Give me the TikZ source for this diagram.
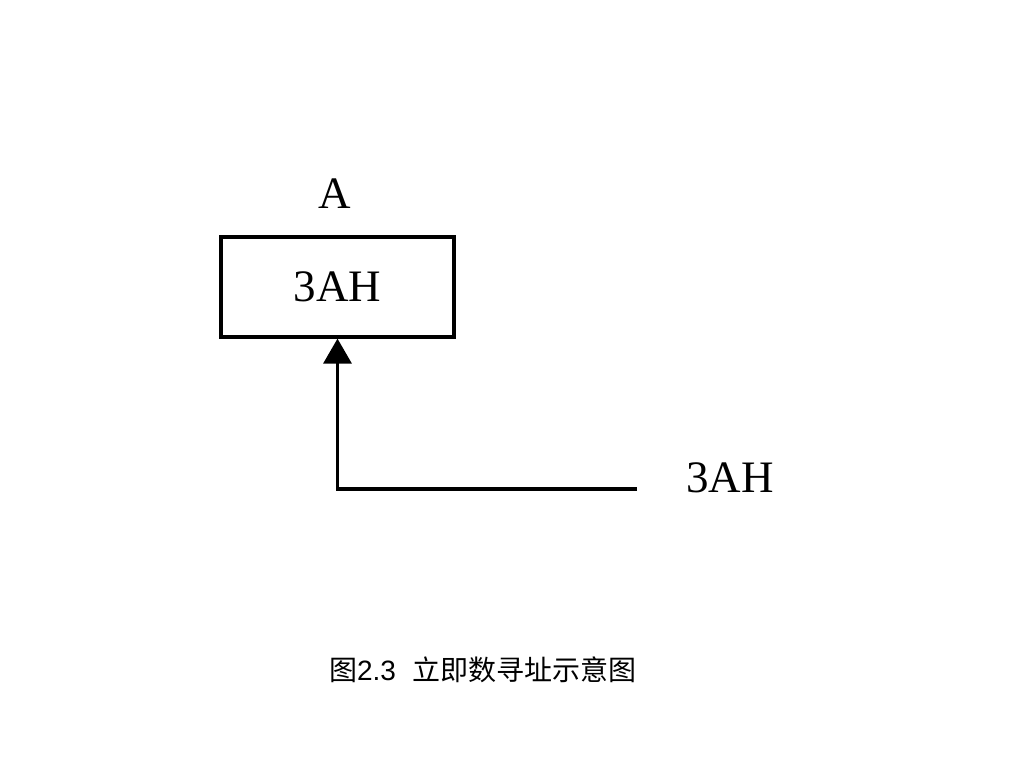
\documentclass[tikz,border=0pt]{standalone}
\usepackage{fontspec}
\setmainfont{Liberation Serif}
\newfontfamily\cjk{Noto Sans CJK SC}
\newfontfamily\helv{Liberation Sans}
\usetikzlibrary{arrows.meta}
\tikzset{
	membox/.style={draw, line width=3.2pt, minimum width=233pt, minimum height=100pt, inner sep=0pt},
	lbl/.style={font=\fontsize{45}{54}\selectfont, inner sep=0pt},
	arr/.style={line width=3.2pt, -{Triangle[length=25pt, width=28pt]}},
	caption/.style={font=\cjk\fontsize{28}{34}\selectfont, inner sep=0pt}
}
\begin{document}
\begin{tikzpicture}[x=1pt, y=-1pt]
		\useasboundingbox (0,0) rectangle (1024,768);
		
		\node[membox, lbl] (mem) at (337.5,287) {3AH};
		\node[lbl, anchor=base] (addr) at (335,208) {A};
		\node[lbl, anchor=base] (imm) at (730,492) {3AH};
		\coordinate (src) at (637,489);
		
		\draw[arr] (src) -| (mem.south);
		
		\node[caption] (cap) at (483,670) {图{\helv 2.3}\hspace{0.6em}立即数寻址示意图};
	\end{tikzpicture}
\end{document}
